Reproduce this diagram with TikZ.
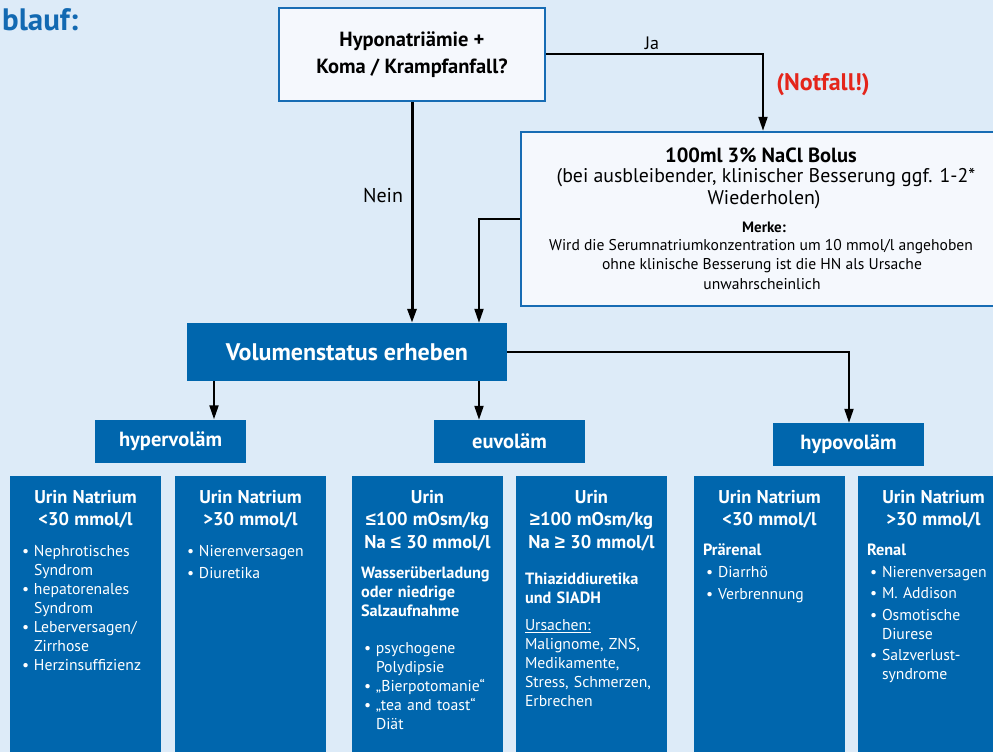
\documentclass[tikz,border=0pt]{standalone}
\usepackage{fontspec}
\setmainfont{PT Sans}
\newfontfamily\symf{Liberation Sans}
\usetikzlibrary{arrows.meta}
\definecolor{bg}{RGB}{221,235,248}
\definecolor{dblue}{RGB}{0,102,173}
\definecolor{lbox}{RGB}{245,248,253}
\definecolor{bord}{RGB}{23,108,180}
\definecolor{nred}{RGB}{228,37,27}
\definecolor{ttl}{RGB}{18,105,178}
\newlength\isep
\newcommand\hd[1]{{\centering\bfseries\fontsize{18.5}{22.5}\selectfont #1\par}}
\newcommand\sh[1]{{\bfseries\fontsize{16.3}{19}\selectfont #1\par}}
\newcommand\bl[1]{\par\vspace{\isep}\hangindent=15pt\hangafter=1\noindent\hbox to 15pt{\hskip3pt\textbullet\hfil}#1\par}
\newcommand\myle{{\symf ≤}}
\newcommand\myge{{\symf ≥}}
\tikzset{
 conn/.style={line width=2pt, -{Triangle[length=14pt,width=9pt]}},
 qbox/.style={draw=bord, line width=2.5pt, fill=lbox, inner sep=0pt, align=center},
 dbox/.style={fill=dblue, inner sep=0pt, text=white},
 lvl/.style={dbox, minimum width=151pt, minimum height=43pt, font=\bfseries\fontsize{20.5}{24}\selectfont},
 colbox/.style={dbox, minimum width=151pt, minimum height=300pt, anchor=north},
 coltext/.style={anchor=north, text=white, inner sep=0pt, text width=133pt, font=\fontsize{15.7}{19}\selectfont},
}
\begin{document}
\begin{tikzpicture}[x=1pt,y=-1pt]
\clip (0,0) rectangle (993,752);
\fill[bg] (0,0) rectangle (993,752);
\node[anchor=base west, text=ttl, font=\bfseries\fontsize{31}{33}\selectfont, inner sep=0pt] (title) at (2,31) {blauf:};

\node[qbox, minimum width=266pt, minimum height=93pt, font=\bfseries\fontsize{20.5}{27}\selectfont] (top) at (412,54.5) {Hyponatriämie +\\Koma / Krampfanfall?};
\node[qbox, minimum width=481pt, minimum height=174pt] (notf) at (761.5,219) {};
\node[font=\bfseries\fontsize{20.5}{24}\selectfont] (n1) at (761,155) {100ml 3\% NaCl Bolus};
\node[font=\fontsize{19.8}{24}\selectfont] (n2) at (766,178) {(bei ausbleibender, klinischer Besserung ggf. 1-2*};
\node[font=\fontsize{19.8}{24}\selectfont] (n3) at (764,200) {Wiederholen)};
\node[font=\bfseries\fontsize{15}{18}\selectfont] (n4) at (764,227) {Merke:};
\node[font=\fontsize{15.6}{18}\selectfont] (n5) at (761,247) {Wird die Serumnatriumkonzentration um 10 mmol/l angehoben};
\node[font=\fontsize{15.6}{18}\selectfont] (n6) at (762,266) {ohne klinische Besserung ist die HN als Ursache};
\node[font=\fontsize{15.6}{18}\selectfont] (n7) at (762,284) {unwahrscheinlich};

\node[dbox, minimum width=320pt, minimum height=58pt, font=\bfseries\fontsize{24}{28}\selectfont] (vol) at (347,352) {Volumenstatus erheben};
\node[lvl] (hyper) at (170.5,441) {hypervoläm};
\node[lvl] (euvo) at (509.5,441.5) {euvoläm};
\node[lvl] (hypo) at (848.5,444.5) {hypovoläm};

\node[colbox] (b1) at (85.5,476) {};
\node[colbox] (b2) at (250.5,476) {};
\node[colbox] (b3) at (427.5,476) {};
\node[colbox] (b4) at (591.5,476) {};
\node[colbox] (b5) at (769.5,476) {};
\node[colbox] (b6) at (933.5,476) {};

\node[coltext] (t1) at (85.5,490) {\raggedright\setlength\isep{0pt}\hd{Urin Natrium\\<30 mmol/l}\vspace{12pt}\bl{Nephrotisches\newline Syndrom}\bl{hepatorenales\newline Syndrom}\bl{Leberversagen/\newline Zirrhose}\bl{Herzinsuffizienz}};
\node[coltext] (t2) at (250.5,490) {\raggedright\setlength\isep{3pt}\hd{Urin Natrium\\>30 mmol/l}\vspace{9pt}\bl{Nierenversagen}\bl{Diuretika}};
\node[coltext] (t3) at (427.5,490) {\raggedright\setlength\isep{0pt}\hd{Urin\\\myle100 mOsm/kg\\Na \myle{} 30 mmol/l}\vspace{11pt}\sh{Wasserüberladung\newline oder niedrige\newline Salzaufnahme}\vspace{18pt}\bl{psychogene\newline Polydipsie}\bl{„Bierpotomanie“}\bl{„tea and toast“\newline Diät}};
\node[coltext] (t4) at (591.5,490) {\raggedright\setlength\isep{0pt}\hd{Urin\\\myge100 mOsm/kg\\Na \myge{} 30 mmol/l}\vspace{17pt}\sh{Thiaziddiuretika\newline und SIADH}\vspace{8pt}\underline{Ursachen:}\newline Malignome, ZNS,\newline Medikamente,\newline Stress, Schmerzen,\newline Erbrechen};
\node[coltext] (t5) at (769.5,490) {\raggedright\setlength\isep{3pt}\hd{Urin Natrium\\<30 mmol/l}\vspace{11pt}\sh{Prärenal}\bl{Diarrhö}\bl{Verbrennung}};
\node[coltext] (t6) at (933.5,490) {\raggedright\setlength\isep{2.5pt}\hd{Urin Natrium\\>30 mmol/l}\vspace{11pt}\sh{Renal}\bl{Nierenversagen}\bl{M. Addison}\bl{Osmotische\newline Diurese}\bl{Salzverlust-\newline syndrome}};

\coordinate (k1) at (763,54.5);
\draw[conn] (top.east) -- (k1) -- (k1 |- notf.north);
\node[font=\fontsize{18}{21}\selectfont] (ja) at (652,43) {Ja};
\node[text=nred, font=\bfseries\fontsize{24}{28}\selectfont] (nf) at (823,85) {(Notfall!)};
\draw[conn, line width=3pt] (top.south) -- (top.south |- vol.north);
\node[font=\fontsize{20}{24}\selectfont] (nein) at (383,196) {Nein};
\coordinate (k2) at (479,219);
\draw[conn] (notf.west) -- (k2) -- (k2 |- vol.north);
\coordinate (k3) at (849,352);
\draw[conn] (vol.east) -- (k3) -- (k3 |- hypo.north);
\coordinate (d1) at (214,381);
\draw[conn] (d1) -- (d1 |- hyper.north);
\coordinate (d2) at (479,381);
\draw[conn] (d2) -- (d2 |- euvo.north);
\end{tikzpicture}
\end{document}
